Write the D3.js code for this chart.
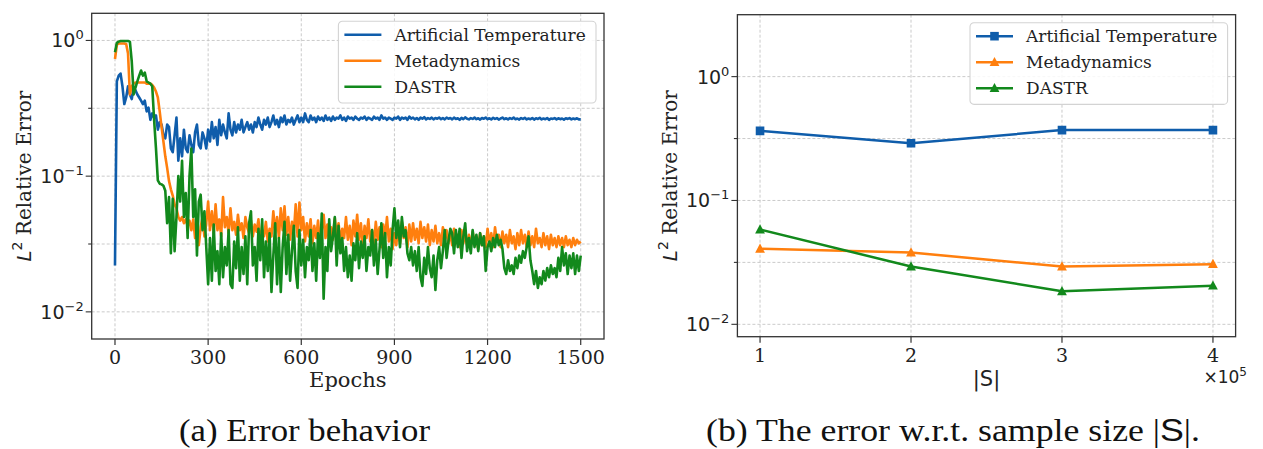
<!DOCTYPE html>
<html>
<head>
<meta charset="utf-8">
<script src="https://cdn.jsdelivr.net/npm/d3@7"></script>
<style>
  body { margin: 0; background: #fff; }
  svg { display: block; }
</style>
</head>
<body>
<svg id="chart" width="1263" height="449"></svg>
<script>
//Panel (a): error per epoch, one value every 6 epochs (0..1500)
const epochs = d3.range(0, 1501, 6);

const atErr = [
  0.022, 0.50, 0.55, 0.57, 0.46, 0.34, 0.38, 0.46, 0.40, 0.37,
  0.45, 0.43, 0.40, 0.38, 0.36, 0.34, 0.36, 0.30, 0.32, 0.26,
  0.29, 0.27, 0.28, 0.22, 0.25, 0.24, 0.20, 0.19, 0.24, 0.23,
  0.16, 0.15, 0.20, 0.27, 0.13, 0.19, 0.14, 0.22, 0.16, 0.15,
  0.20, 0.17, 0.15, 0.21, 0.24, 0.17, 0.16, 0.21, 0.19, 0.16,
  0.22, 0.18, 0.25, 0.19, 0.23, 0.17, 0.26, 0.20, 0.24, 0.21,
  0.19, 0.29, 0.22, 0.20, 0.25, 0.21, 0.24, 0.22, 0.26, 0.21,
  0.23, 0.25, 0.22, 0.24, 0.21, 0.25, 0.23, 0.27, 0.24, 0.22,
  0.26, 0.24, 0.27, 0.23, 0.25, 0.28, 0.24, 0.26, 0.23, 0.27,
  0.25, 0.28, 0.24, 0.26, 0.25, 0.27, 0.24, 0.26, 0.28, 0.25,
  0.27, 0.25, 0.29, 0.26, 0.25, 0.28, 0.26, 0.27, 0.25, 0.275,
  0.26, 0.27, 0.255, 0.28, 0.26, 0.27, 0.255, 0.275, 0.26, 0.27,
  0.265, 0.28, 0.26, 0.27, 0.255, 0.275, 0.265, 0.27, 0.26, 0.275,
  0.265, 0.26, 0.27, 0.265, 0.275, 0.26, 0.27, 0.265, 0.26, 0.275,
  0.265, 0.27, 0.26, 0.28, 0.265, 0.27, 0.26, 0.27, 0.265, 0.26,
  0.27, 0.265, 0.275, 0.26, 0.27, 0.265, 0.27, 0.26, 0.275, 0.265,
  0.27, 0.262, 0.268, 0.26, 0.27, 0.265, 0.272, 0.262, 0.268, 0.264,
  0.27, 0.262, 0.268, 0.265, 0.27, 0.263, 0.268, 0.262, 0.27, 0.265,
  0.268, 0.262, 0.27, 0.264, 0.267, 0.26, 0.269, 0.263, 0.271, 0.265,
  0.262, 0.268, 0.264, 0.27, 0.263, 0.267, 0.261, 0.268, 0.265, 0.27,
  0.263, 0.267, 0.262, 0.269, 0.264, 0.268, 0.261, 0.266, 0.27, 0.263,
  0.267, 0.262, 0.268, 0.264, 0.27, 0.263, 0.266, 0.261, 0.268, 0.264,
  0.269, 0.262, 0.266, 0.263, 0.268, 0.261, 0.267, 0.264, 0.269, 0.262,
  0.266, 0.263, 0.268, 0.26, 0.266, 0.264, 0.268, 0.262, 0.267, 0.263,
  0.266, 0.261, 0.267, 0.264, 0.268, 0.262, 0.266, 0.263, 0.267, 0.262,
  0.262
];

const metaErr = [
  0.73, 0.93, 0.95, 0.95, 0.95, 0.95, 0.94, 0.80, 0.40, 0.46,
  0.48, 0.49, 0.49, 0.49, 0.49, 0.49, 0.49, 0.48, 0.48, 0.48,
  0.47, 0.45, 0.42, 0.38, 0.30, 0.23, 0.18, 0.14, 0.115, 0.092,
  0.08, 0.072, 0.062, 0.058, 0.05, 0.047, 0.05, 0.045, 0.048, 0.043,
  0.047, 0.04, 0.048, 0.035, 0.044, 0.031, 0.042, 0.05, 0.036, 0.045,
  0.065, 0.04, 0.055, 0.038, 0.062, 0.04, 0.048, 0.036, 0.07, 0.042,
  0.05, 0.038, 0.058, 0.04, 0.046, 0.037, 0.052, 0.04, 0.045, 0.035,
  0.05, 0.042, 0.038, 0.047, 0.036, 0.044, 0.039, 0.048, 0.034, 0.04,
  0.036, 0.046, 0.033, 0.041, 0.036, 0.055, 0.038, 0.05, 0.035, 0.058,
  0.04, 0.06, 0.037, 0.05, 0.034, 0.046, 0.038, 0.062, 0.036, 0.064,
  0.04, 0.05, 0.033, 0.045, 0.036, 0.048, 0.032, 0.043, 0.035, 0.047,
  0.033, 0.04, 0.052, 0.035, 0.044, 0.032, 0.042, 0.034, 0.049, 0.036,
  0.045, 0.033, 0.041, 0.035, 0.05, 0.034, 0.043, 0.031, 0.047, 0.036,
  0.052, 0.034, 0.045, 0.03, 0.043, 0.035, 0.048, 0.033, 0.04, 0.031,
  0.046, 0.034, 0.042, 0.03, 0.044, 0.035, 0.05, 0.033, 0.041, 0.029,
  0.038, 0.031, 0.043, 0.032, 0.046, 0.035, 0.042, 0.03, 0.044, 0.033,
  0.045, 0.034, 0.041, 0.032, 0.046, 0.035, 0.042, 0.033, 0.044, 0.031,
  0.04, 0.033, 0.043, 0.032, 0.038, 0.031, 0.042, 0.034, 0.04, 0.032,
  0.038, 0.031, 0.041, 0.033, 0.037, 0.03, 0.04, 0.032, 0.038, 0.031,
  0.037, 0.03, 0.039, 0.032, 0.036, 0.029, 0.038, 0.031, 0.036, 0.03,
  0.041, 0.032, 0.038, 0.03, 0.042, 0.033, 0.037, 0.03, 0.039, 0.032,
  0.037, 0.03, 0.04, 0.032, 0.036, 0.029, 0.038, 0.031, 0.04, 0.032,
  0.037, 0.03, 0.039, 0.031, 0.036, 0.03, 0.041, 0.032, 0.035, 0.03,
  0.038, 0.031, 0.036, 0.029, 0.037, 0.031, 0.035, 0.03, 0.036, 0.031,
  0.035, 0.03, 0.036, 0.031, 0.034, 0.03, 0.035, 0.031, 0.034, 0.032,
  0.033
];

const dastrErr = [
  0.82, 0.96, 0.98, 0.99, 0.99, 0.99, 0.99, 0.99, 0.98, 0.70,
  0.40, 0.45, 0.50, 0.55, 0.60, 0.55, 0.58, 0.50, 0.49, 0.48,
  0.46, 0.26, 0.16, 0.093, 0.088, 0.087, 0.085, 0.078, 0.045, 0.07,
  0.027, 0.068, 0.028, 0.05, 0.10, 0.065, 0.13, 0.05, 0.075, 0.035,
  0.10, 0.16, 0.05, 0.08, 0.026, 0.065, 0.073, 0.04, 0.055, 0.03,
  0.016, 0.035, 0.017, 0.044, 0.02, 0.028, 0.016, 0.038, 0.018, 0.03,
  0.022, 0.04, 0.016, 0.015, 0.033, 0.021, 0.042, 0.017, 0.03, 0.019,
  0.036, 0.016, 0.045, 0.055, 0.022, 0.03, 0.017, 0.041, 0.024, 0.048,
  0.018, 0.033, 0.02, 0.038, 0.014, 0.026, 0.045, 0.016, 0.035, 0.014,
  0.03, 0.046, 0.019, 0.037, 0.017, 0.028, 0.043, 0.02, 0.015, 0.04,
  0.022, 0.034, 0.018, 0.03, 0.024, 0.04, 0.02, 0.032, 0.017, 0.038,
  0.025, 0.053, 0.0125, 0.03, 0.02, 0.048, 0.028, 0.036, 0.05, 0.022,
  0.043, 0.027, 0.035, 0.02, 0.03, 0.018, 0.026, 0.017, 0.032, 0.024,
  0.038, 0.021, 0.033, 0.025, 0.036, 0.02, 0.03, 0.026, 0.04, 0.022,
  0.034, 0.019, 0.029, 0.045, 0.025, 0.038, 0.018, 0.03, 0.022, 0.04,
  0.058, 0.035, 0.047, 0.03, 0.05, 0.036, 0.04, 0.027, 0.024, 0.03,
  0.022, 0.028, 0.02, 0.03, 0.018, 0.0155, 0.025, 0.019, 0.03, 0.021,
  0.018, 0.026, 0.0145, 0.024, 0.03, 0.021, 0.028, 0.04, 0.025, 0.033,
  0.041, 0.038, 0.027, 0.04, 0.03, 0.041, 0.025, 0.036, 0.045, 0.028,
  0.035, 0.027, 0.04, 0.03, 0.037, 0.028, 0.038, 0.031, 0.036, 0.02,
  0.03, 0.033, 0.028, 0.035, 0.03, 0.037, 0.031, 0.034, 0.029, 0.021,
  0.019, 0.024, 0.02, 0.022, 0.019, 0.025, 0.021, 0.026, 0.023, 0.028,
  0.025, 0.03, 0.036, 0.024, 0.02, 0.016, 0.02, 0.015, 0.018, 0.016,
  0.02, 0.017, 0.021, 0.018, 0.022, 0.019, 0.021, 0.018, 0.025, 0.02,
  0.03, 0.022, 0.027, 0.019, 0.026, 0.021, 0.027, 0.019, 0.026, 0.02,
  0.026
];

const epochTicks = [0, 300, 600, 900, 1200, 1500];

//Panel (b): error vs sample size (in units of 10^5)
const sampleSizes = [1, 2, 3, 4];
const atBySize = [0.365, 0.290, 0.370, 0.370];
const metaBySize = [0.0407, 0.0380, 0.0293, 0.0306];
const dastrBySize = [0.0582, 0.0293, 0.0185, 0.0205];

const seriesNames = ["Artificial Temperature", "Metadynamics", "DASTR"];
const seriesColors = ["#0f5dab", "#ff7f0e", "#12891c"];
const seriesMarkers = ["square", "triangle", "triangle"];
const decadeTicks = [1, 0.1, 0.01];
const decadeExps = ["0", "\u22121", "\u22122"];

const SERIF = "'DejaVu Serif', serif";
const SANS = "'DejaVu Sans', sans-serif";

const svg = d3.select("#chart");
svg.append("rect").attr("width", 1263).attr("height", 449).attr("fill", "#fff");

function drawPanel(p) {
  const x = d3.scaleLinear().domain(p.xDomain).range([p.left, p.right]);
  const y = d3.scaleLog().domain(p.yDomain).range([p.bottom, p.top]);
  const g = svg.append("g").attr("id", p.id);

  //Clip for lines
  g.append("clipPath").attr("id", p.id + "-clip")
    .append("rect")
    .attr("x", p.left).attr("y", p.top)
    .attr("width", p.right - p.left).attr("height", p.bottom - p.top);

  //Grid (half decades on y)
  const halfTicks = decadeTicks.flatMap((d, i) => i < decadeTicks.length - 1 ? [d, d / Math.sqrt(10)] : [d]);
  const grid = g.append("g")
    .attr("stroke", "#c4c4c4")
    .attr("stroke-width", 0.9)
    .attr("stroke-dasharray", "3,2");
  grid.selectAll("line.gx").data(p.xTicks).enter().append("line")
    .attr("x1", d => x(d)).attr("x2", d => x(d))
    .attr("y1", p.top).attr("y2", p.bottom);
  grid.selectAll("line.gy").data(halfTicks).enter().append("line")
    .attr("x1", p.left).attr("x2", p.right)
    .attr("y1", d => y(d)).attr("y2", d => y(d));

  //Lines
  const lineGen = d3.line()
    .x(d => x(d[0]))
    .y(d => y(d[1]));
  const lines = g.append("g").attr("clip-path", `url(#${p.id}-clip)`);
  p.series.forEach((vals, i) => {
    const pts = p.xs.map((xv, j) => [xv, vals[j]]);
    lines.append("path")
      .attr("d", lineGen(pts))
      .attr("fill", "none")
      .attr("stroke", seriesColors[i])
      .attr("stroke-width", p.lineWidth)
      .attr("stroke-linejoin", "round");
    if (p.markers) {
      lines.selectAll(null).data(pts).enter().append("path")
        .attr("transform", d => `translate(${x(d[0])},${y(d[1])})`)
        .attr("d", markerPath(seriesMarkers[i]))
        .attr("fill", seriesColors[i]);
    }
  });

  //Frame
  g.append("rect")
    .attr("x", p.left).attr("y", p.top)
    .attr("width", p.right - p.left).attr("height", p.bottom - p.top)
    .attr("fill", "none").attr("stroke", "#333").attr("stroke-width", 1.3);

  //X ticks
  const xt = g.append("g");
  xt.selectAll("line").data(p.xTicks).enter().append("line")
    .attr("x1", d => x(d)).attr("x2", d => x(d))
    .attr("y1", p.bottom).attr("y2", p.bottom + 6)
    .attr("stroke", "#333").attr("stroke-width", 1.2);
  xt.selectAll("text").data(p.xTicks).enter().append("text")
    .attr("x", d => x(d)).attr("y", p.bottom + 25)
    .attr("text-anchor", "middle")
    .attr("font-family", SERIF).attr("font-size", 19).attr("fill", "#222")
    .text(d => d);

  //Y ticks (major at decades, minor at half decades)
  const yt = g.append("g");
  yt.selectAll("line").data(halfTicks).enter().append("line")
    .attr("x1", p.left).attr("x2", (d, i) => p.left - (i % 2 === 0 ? 6 : 3.5))
    .attr("y1", d => y(d)).attr("y2", d => y(d))
    .attr("stroke", "#333").attr("stroke-width", 1.1);
  decadeTicks.forEach((d, i) => {
    const t = yt.append("text")
      .attr("x", p.left - 8).attr("y", y(d) + 7)
      .attr("text-anchor", "end")
      .attr("font-family", SANS).attr("font-size", 19).attr("fill", "#222");
    t.append("tspan").text("10");
    t.append("tspan").attr("dy", -8).attr("font-size", 13).text(decadeExps[i]);
  });

  //Y label: L^2 Relative Error
  const cy = (p.top + p.bottom) / 2;
  const yl = g.append("text")
    .attr("transform", `translate(${p.yLabelX},${cy}) rotate(-90)`)
    .attr("text-anchor", "middle")
    .attr("font-size", 20).attr("fill", "#222");
  yl.append("tspan").attr("font-family", SANS).attr("font-style", "italic").text("L");
  yl.append("tspan").attr("font-family", SANS).attr("font-size", 14).attr("dy", -9).text("2");
  yl.append("tspan").attr("font-family", SERIF).attr("dy", 9).text(" Relative Error");

  //Legend
  drawLegend(g, p.right - 8 - 257.6, p.top + 8, p.markers);
  return {x, y, g};
}

function markerPath(kind) {
  if (kind === "square") return "M-4.3,-4.3H4.3V4.3H-4.3Z";
  return "M0,-5.3L4.9,3.9H-4.9Z";
}

function drawLegend(g, lx, ly, withMarkers) {
  const lg = g.append("g").attr("transform", `translate(${lx},${ly})`);
  lg.append("rect")
    .attr("width", 257.6).attr("height", 81.7)
    .attr("rx", 4).attr("fill", "#fff").attr("fill-opacity", 0.85)
    .attr("stroke", "#d3d3d3").attr("stroke-width", 1.1);
  seriesNames.forEach((name, i) => {
    const ey = 13.5 + i * 26;
    lg.append("line")
      .attr("x1", 6).attr("x2", 43).attr("y1", ey).attr("y2", ey)
      .attr("stroke", seriesColors[i]).attr("stroke-width", 2.6);
    if (withMarkers) {
      lg.append("path")
        .attr("transform", `translate(24.5,${ey})`)
        .attr("d", markerPath(seriesMarkers[i]))
        .attr("fill", seriesColors[i]);
    }
    lg.append("text")
      .attr("x", 56).attr("y", ey + 6)
      .attr("font-family", SERIF).attr("font-size", 17).attr("fill", "#222")
      .text(name);
  });
}

//Panel (a)
drawPanel({
  id: "pa", left: 91.7, right: 604, top: 13.3, bottom: 339,
  xDomain: [-75, 1575], yDomain: [Math.pow(10, -2.2), Math.pow(10, 0.2)],
  xTicks: epochTicks, xs: epochs, series: [atErr, metaErr, dastrErr],
  lineWidth: 2.6, markers: false, yLabelX: 31
});
svg.append("text")
  .attr("x", (91.7 + 604) / 2).attr("y", 387)
  .attr("text-anchor", "middle")
  .attr("font-family", SERIF).attr("font-size", 21).attr("fill", "#222")
  .text("Epochs");

//Panel (b)
drawPanel({
  id: "pb", left: 737.4, right: 1235.6, top: 14.7, bottom: 336.7,
  xDomain: [0.85, 4.15], yDomain: [Math.pow(10, -2.1), Math.pow(10, 0.5)],
  xTicks: sampleSizes, xs: sampleSizes, series: [atBySize, metaBySize, dastrBySize],
  lineWidth: 2.5, markers: true, yLabelX: 677
});
svg.append("text")
  .attr("x", (737.4 + 1235.6) / 2).attr("y", 386)
  .attr("text-anchor", "middle")
  .attr("font-family", SANS).attr("font-size", 21).attr("fill", "#222")
  .text("|S|");
const sci = svg.append("text")
  .attr("x", 1247).attr("y", 383)
  .attr("text-anchor", "end")
  .attr("font-family", SANS).attr("font-size", 17).attr("fill", "#222");
sci.append("tspan").text("\u00d710");
sci.append("tspan").attr("dy", -7).attr("font-size", 12).text("5");

//Captions (stretched to the width of the LaTeX captions)
const CAP = "'Liberation Serif', serif";
svg.append("text")
  .attr("x", 179).attr("y", 441)
  .attr("font-family", CAP).attr("font-size", 31).attr("fill", "#111")
  .attr("textLength", 251).attr("lengthAdjust", "spacingAndGlyphs")
  .text("(a) Error behavior");
const capB = svg.append("text")
  .attr("x", 706).attr("y", 441)
  .attr("font-family", CAP).attr("font-size", 31).attr("fill", "#111")
  .attr("textLength", 494).attr("lengthAdjust", "spacingAndGlyphs");
capB.append("tspan").text("(b) The error w.r.t. sample size |");
capB.append("tspan").attr("font-family", "'Liberation Sans', sans-serif").text("S");
capB.append("tspan").text("|.");
</script>
</body>
</html>
